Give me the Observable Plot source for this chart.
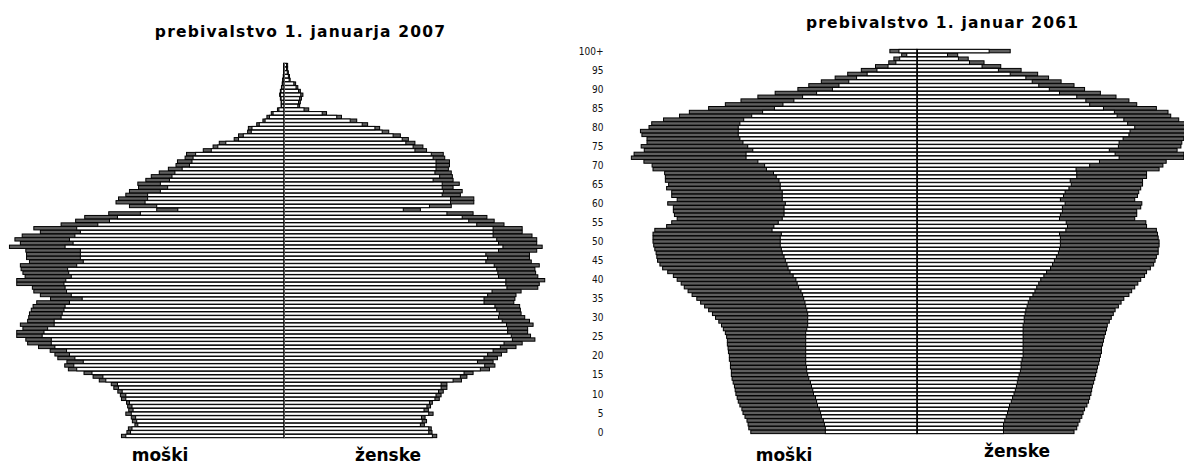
<!DOCTYPE html>
<html>
<head>
<meta charset="utf-8">
<script src="https://cdn.jsdelivr.net/npm/d3@7"></script>
<script src="https://cdn.jsdelivr.net/npm/@observablehq/plot@0.6"></script>
<style>
  html, body { margin: 0; padding: 0; background: #fff; }
  body { width: 1184px; height: 463px; overflow: hidden; position: relative; font-family: "DejaVu Sans", sans-serif; }
  .lbl { position: absolute; font-weight: bold; font-size: 17px; line-height: 14px; white-space: nowrap; color: #000; transform: translateX(-50%); }
  .ttl { font-size: 15.5px; line-height: 15.5px; letter-spacing: 1.2px; }
  #left, #right { position: absolute; top: 0; }
  #left { left: 0; }
  #right { left: 570px; }
</style>
</head>
<body>
<div id="left"></div>
<div id="right"></div>
<div class="lbl ttl" style="left:300.6px; top:25px;">prebivalstvo 1. januarja 2007</div>
<div class="lbl ttl" style="left:942.6px; top:16px;">prebivalstvo 1. januar 2061</div>
<div class="lbl" style="left:160px; top:448px;">moški</div>
<div class="lbl" style="left:388px; top:448px;">ženske</div>
<div class="lbl" style="left:784px; top:448px;">moški</div>
<div class="lbl" style="left:1017px; top:444px;">ženske</div>
<script>
// ages 0 .. 100 (100 = 100+), values in thousands of persons
const ages = d3.range(0, 101);
const ageTicks = [100, 95, 90, 85, 80, 75, 70, 65, 60, 55, 50, 45, 40, 35, 30, 25, 20, 15, 10, 5, 0];
const tickLabels = ["100+", "95", "90", "85", "80", "75", "70", "65", "60", "55", "50", "45", "40", "35", "30", "25", "20", "15", "10", "5", "0"];

// 2007 – men (whole bar, dark end) and inner white part
const male2007All = [8.94,8.64,8.56,8.2,8.34,8.4,8.7,8.54,8.6,8.66, 8.94,9.0,9.14,9.36,9.5,10.16,10.5,11.0,11.86,12.06, 11.94,12.44,12.6,12.86,13.5,14.1,14.2,14.7,14.7,14.36, 14.5,14.1,14.04,14.0,13.9,13.8,13.6,12.84,13.4,13.76, 13.84,14.7,14.7,14.24,14.36,14.46,14.5,14.0,14.16,14.16, 14.2,15.1,14.5,14.8,14.4,13.4,13.76,12.26,11.46,10.96, 9.64,7.0,8.5,9.24,9.1,8.7,8.5,8.0,8.04,7.6, 7.3,6.86,6.36,5.94,5.86,5.44,5.36,4.44,3.9,3.56, 2.74,2.5,2.0,1.96,1.5,1.16,0.94,0.7,0.36,0.16, 0.16,0.2,0.24,0.2,0.14,0.1,0.08,0.04,0.02,0.01, 0.01];
const male2007Base = [8.7,8.44,8.36,8.04,8.1,8.16,8.4,8.3,8.36,8.5, 8.7,8.7,8.9,9.1,9.16,9.8,9.96,10.56,11.4,11.56, 11.04,11.5,11.8,11.96,12.6,12.8,12.8,13.3,13.2,13.0, 12.64,12.64,12.26,12.2,12.1,12.04,11.8,11.1,11.7,11.96, 12.04,12.1,12.0,11.7,11.84,11.9,11.4,11.04,11.2,11.2, 11.2,12.04,11.6,11.8,11.5,11.2,11.4,10.24,9.6,9.16, 7.9,5.84,7.0,7.64,7.5,7.5,6.8,6.4,6.8,6.3, 6.16,6.0,5.6,5.2,5.06,5.0,4.86,4.0,3.64,3.2, 2.5,2.24,1.8,1.76,1.36,1.04,0.8,0.6,0.28,0.13, 0.13,0.16,0.19,0.16,0.11,0.08,0.06,0.03,0.01,0.01, 0.01];
// 2007 – women
const female2007All = [8.4,8.14,8.1,7.72,7.84,7.76,8.2,7.94,8.06,8.16, 8.54,8.64,8.76,8.96,8.96,9.76,10.06,10.4,11.3,11.6, 11.5,11.74,11.96,12.26,12.76,13.1,13.8,13.56,13.4,13.4, 13.7,13.5,13.24,13.04,13.0,12.96,12.64,12.7,12.76,13.04, 13.96,14.04,14.34,13.96,13.84,13.8,14.04,13.6,13.5,13.5, 13.9,14.2,13.9,13.9,13.64,13.1,13.1,12.1,11.56,11.16, 10.4,7.5,9.2,10.44,10.44,9.7,9.8,9.3,9.64,9.3, 9.26,9.2,9.04,9.1,9.1,8.84,8.76,7.84,7.64,7.2, 6.84,6.4,5.76,5.26,4.6,4.0,3.16,2.34,1.36,0.86, 0.9,0.96,1.04,0.9,0.76,0.64,0.34,0.3,0.24,0.2, 0.2];
const female2007Base = [8.16,7.96,7.96,7.5,7.6,7.56,7.96,7.7,7.86,8.0, 8.3,8.36,8.5,8.64,8.64,9.3,9.7,9.9,10.8,11.04, 10.64,11.0,11.2,11.5,11.9,12.1,12.56,12.5,12.3,12.3, 12.24,12.0,11.8,11.84,11.7,11.6,11.0,11.0,11.2,11.44, 12.26,12.2,12.2,11.8,11.76,11.7,11.56,11.1,11.2,11.1, 11.8,12.04,11.8,11.7,11.5,11.5,11.5,10.6,10.16,9.8, 8.96,6.56,8.0,9.16,9.16,8.7,8.76,8.7,8.7,8.2, 8.56,8.3,8.36,8.36,8.36,8.2,8.1,7.2,7.1,6.7, 6.5,6.0,5.4,5.0,4.3,3.64,2.9,2.1,1.1,0.76, 0.8,0.86,0.92,0.8,0.66,0.54,0.28,0.24,0.18,0.14, 0.14];

// 2061 – men
const male2061All = [9.14,9.25,9.29,9.35,9.46,9.57,9.63,9.74,9.83,9.89, 9.96,10.0,10.04,10.11,10.17,10.21,10.21,10.26,10.26,10.32, 10.32,10.37,10.39,10.43,10.43,10.47,10.54,10.65,10.75,10.9, 11.08,11.25,11.46,11.68,11.9,12.11,12.37,12.59,12.8,12.97, 13.19,13.4,13.71,13.99,14.14,14.27,14.31,14.35,14.42,14.48, 14.52,14.52,14.52,14.42,13.77,13.49,13.19,13.34,13.4,13.4, 13.71,13.19,13.49,13.49,13.77,13.66,13.84,13.84,13.88,14.52, 14.57,15.02,15.71,15.56,15.0,15.17,14.85,14.85,15.13,15.21, 14.74,14.59,13.94,13.06,12.52,11.46,10.54,9.68,8.75,7.8, 6.55,5.95,5.26,4.5,3.81,3.06,2.28,1.55,1.27,0.84, 1.49];
const male2061Base = [5.04,5.04,5.09,5.15,5.26,5.3,5.37,5.47,5.52,5.58, 5.69,5.73,5.8,5.86,5.95,6.01,6.06,6.08,6.12,6.12, 6.12,6.12,6.12,6.12,6.12,6.12,6.12,6.06,6.01,6.01, 6.01,6.01,6.06,6.12,6.16,6.23,6.29,6.38,6.51,6.59, 6.66,6.81,6.98,7.09,7.15,7.24,7.31,7.41,7.46,7.52, 7.52,7.52,7.46,7.97,7.87,7.63,7.41,7.31,7.31,7.31, 7.24,7.41,7.41,7.41,7.52,7.52,7.59,7.74,7.89,8.28, 8.38,8.75,9.4,9.4,9.03,9.31,9.57,9.74,9.83,9.83, 9.83,9.74,9.53,9.09,8.49,7.84,7.37,6.77,6.29,5.52, 4.65,4.29,3.75,3.32,2.74,2.2,1.59,1.16,0.95,0.56, 0.99];
// 2061 – women
const female2061All = [8.64,8.79,8.86,8.96,9.07,9.14,9.22,9.35,9.44,9.5, 9.57,9.61,9.65,9.72,9.78,9.83,9.89,9.93,10.0,10.04, 10.09,10.15,10.15,10.21,10.26,10.3,10.37,10.43,10.47,10.58, 10.69,10.8,10.9,11.08,11.23,11.38,11.66,11.81,11.98,12.15, 12.31,12.52,12.63,12.84,13.02,13.1,13.17,13.27,13.27,13.32, 13.32,13.27,13.23,13.17,12.63,12.59,11.98,12.09,12.09,12.31, 12.37,11.98,12.13,12.2,12.31,12.41,12.41,12.63,12.63,13.32, 13.53,13.71,14.68,14.68,14.31,14.52,14.57,14.68,14.98,14.98, 14.87,14.74,14.4,13.96,13.81,13.17,12.09,11.66,10.95,10.09, 9.22,8.64,7.93,7.24,6.64,5.73,4.61,3.69,2.82,2.24, 5.13];
const female2061Base = [4.76,4.76,4.76,4.83,4.91,4.98,5.04,5.09,5.19,5.26, 5.34,5.41,5.47,5.52,5.56,5.62,5.69,5.73,5.73,5.78, 5.84,5.84,5.84,5.84,5.84,5.84,5.84,5.84,5.84,5.9, 5.9,5.95,5.99,6.06,6.12,6.21,6.38,6.49,6.59,6.7, 6.81,6.98,7.13,7.35,7.46,7.56,7.67,7.78,7.84,7.89, 7.89,7.89,7.84,8.19,8.28,8.21,7.84,7.89,8.0,8.0, 8.15,7.89,8.06,8.15,8.36,8.49,8.43,8.79,8.79,8.75, 9.5,10.04,11.12,10.9,10.58,11.08,11.12,11.34,11.66,11.72, 11.98,11.59,11.38,11.01,10.86,10.26,9.5,9.29,8.79,7.84, 7.28,6.7,6.34,5.99,5.13,4.48,3.58,2.89,2.28,1.68, 3.97];

const DARK = "#5e5e5e";

function pyramid(opts) {
  const men = ages.map((a, i) => ({age: a, all: opts.mAll[i], base: opts.mBase[i]}));
  const women = ages.map((a, i) => ({age: a, all: opts.fAll[i], base: opts.fBase[i]}));
  const marks = [
    Plot.barX(men, {y: "age", x1: 0, x2: d => -d.all, fill: DARK, stroke: "#000", strokeWidth: 1}),
    Plot.barX(women, {y: "age", x1: 0, x2: "all", fill: DARK, stroke: "#000", strokeWidth: 1}),
    Plot.barX(men, {y: "age", x1: 0, x2: d => -d.base, fill: "#fff", stroke: "#000", strokeWidth: 1}),
    Plot.barX(women, {y: "age", x1: 0, x2: "base", fill: "#fff", stroke: "#000", strokeWidth: 1}),
    Plot.ruleX([0], {stroke: opts.ruleColor, strokeWidth: 1})
  ];
  if (opts.axis) {
    marks.push(Plot.axisY(ageTicks, {
      tickSize: 0, tickPadding: 2, fontSize: 10, fill: "#111", label: null,
      tickFormat: d => tickLabels[ageTicks.indexOf(d)]
    }));
  }
  return Plot.plot({
    width: opts.width,
    height: 463,
    marginTop: opts.marginTop,
    marginBottom: opts.marginBottom,
    marginLeft: opts.marginLeft,
    marginRight: 0,
    style: {fontFamily: "'DejaVu Sans Condensed', 'DejaVu Sans', sans-serif", background: "transparent"},
    x: {domain: opts.xDomain, axis: null},
    y: {type: "band", domain: d3.range(100, -1, -1), padding: 0.1, axis: null, label: null},
    marks
  });
}

document.getElementById("left").append(pyramid({
  mAll: male2007All, mBase: male2007Base, fAll: female2007All, fBase: female2007Base,
  width: 570, marginTop: 63, marginBottom: 25, marginLeft: 0,
  xDomain: [-15.62, 15.73], ruleColor: "#555", axis: false
}));

document.getElementById("right").append(pyramid({
  mAll: male2061All, mBase: male2061Base, fAll: female2061All, fBase: female2061Base,
  width: 614, marginTop: 49, marginBottom: 29, marginLeft: 35,
  xDomain: [-17.16, 14.69], ruleColor: "#000", axis: true
}));
</script>
</body>
</html>
